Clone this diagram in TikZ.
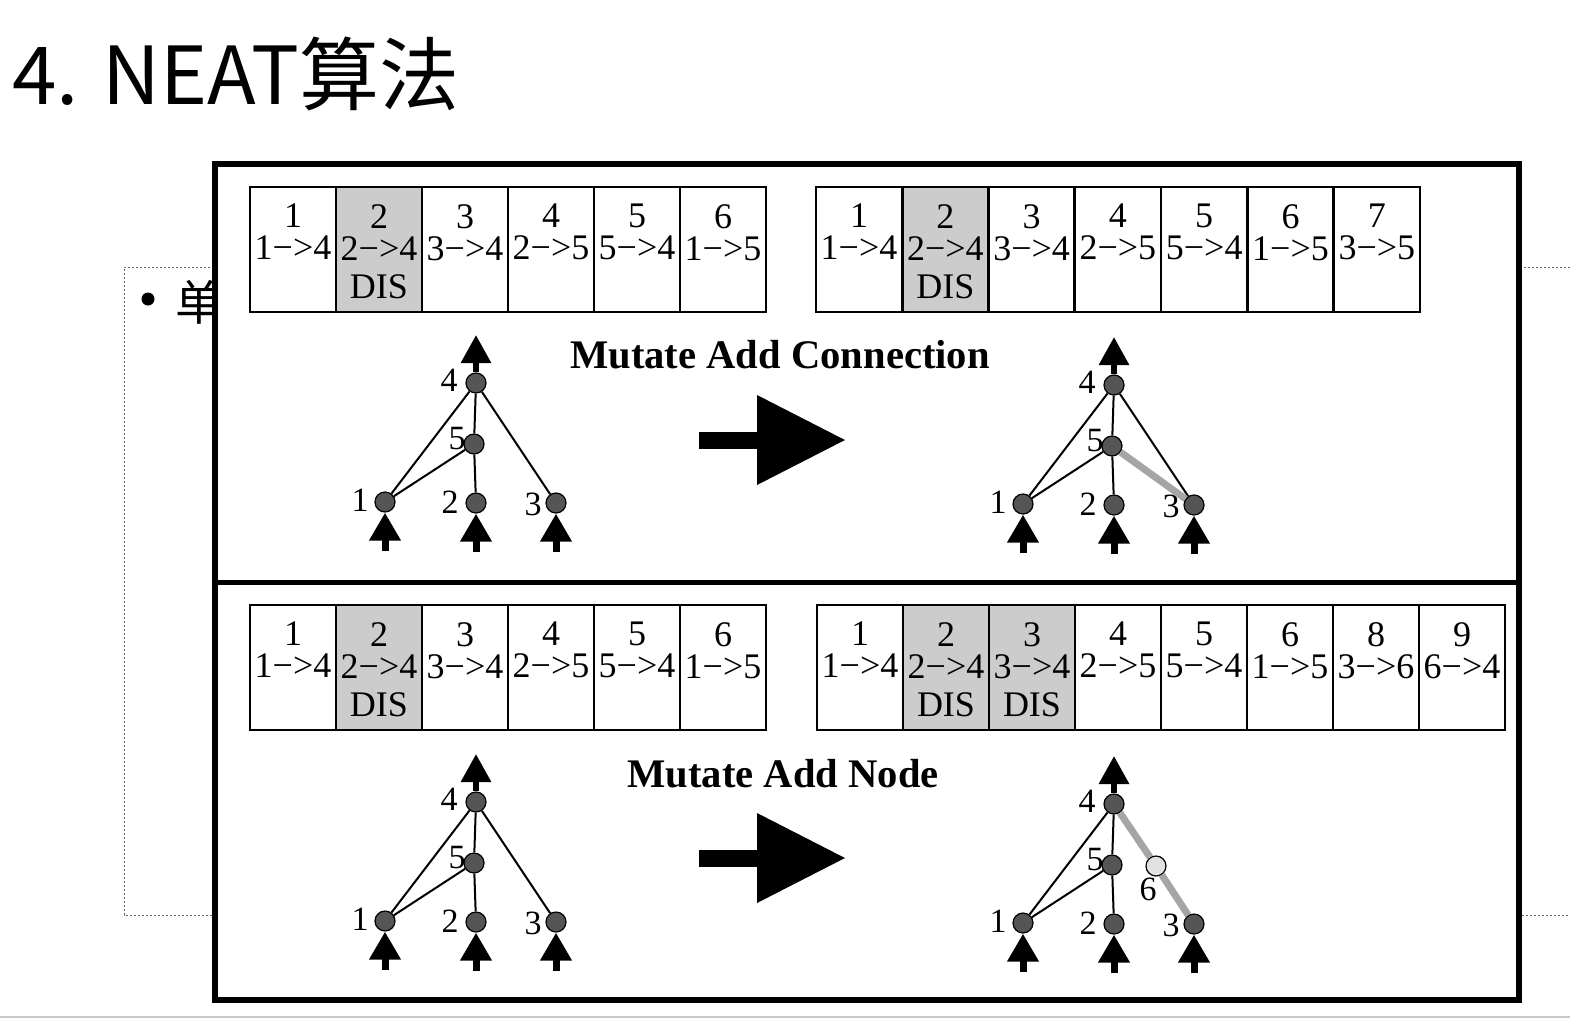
\documentclass[tikz,border=0pt]{standalone}
\usepackage{fontspec}
\setmainfont{Liberation Serif}
\newfontfamily\cjk{Noto Sans CJK SC}
\usetikzlibrary{arrows.meta}
\definecolor{neurongray}{RGB}{85,85,85}
\definecolor{newgray}{RGB}{225,225,225}
\definecolor{linkgray}{RGB}{165,165,165}
\definecolor{disgray}{RGB}{204,204,204}
\definecolor{edgeline}{RGB}{200,200,200}
\definecolor{dotgray}{RGB}{100,100,100}
\tikzset{
 genecell/.style={draw, line width=1.25pt, minimum width=43pt, minimum height=62.5pt, inner sep=0, outer sep=0, anchor=north west},
 genetxt/.style={font=\fontsize{18}{16}\selectfont, align=center, inner sep=0, anchor=north},
 neuron/.style={circle, draw, line width=0.6pt, fill=neurongray, minimum size=10pt, inner sep=0},
 newneuron/.style={neuron, fill=newgray},
 nlbl/.style={font=\fontsize{17}{18}\selectfont, inner sep=0},
 link/.style={line width=1pt},
 newlink/.style={line width=3.5pt, draw=linkgray},
 outarrow/.style={line width=3pt, -{Triangle[length=14pt,width=14.5pt]}},
 inarrow/.style={line width=3.5pt, -{Triangle[length=14pt,width=15pt]}},
 mtitle/.style={font=\bfseries\fontsize{20.3}{22}\selectfont, anchor=base, inner sep=0},
 bigarrow/.style={fill=black},
}
\newcommand\mkgene[7]{%
 \node[genecell, fill=#7] (#1) at (#2,#3) {};
 \node[genetxt] (#1t) at ([yshift=-8.4pt]#1.north) {#4\\#5#6};
}
\newcommand\dis{\\[3pt]DIS}
\newcommand\mknet[3]{%
 \begin{scope}[shift={(#2,#3)}]
 \node[neuron] (#1n4) at (0,0) {};
 \node[neuron] (#1n5) at (-2,61) {};
 \node[neuron] (#1n1) at (-91,119) {};
 \node[neuron] (#1n2) at (0,120) {};
 \node[neuron] (#1n3) at (80,120) {};
 \coordinate (#1o) at (0,-48);
 \coordinate (#1i1) at (-91,168);
 \coordinate (#1i2) at (0,169);
 \coordinate (#1i3) at (80,169);
 \node[nlbl] (#1l4) at (-27,-3) {4};
 \node[nlbl] (#1l5) at (-19,56) {5};
 \node[nlbl] (#1l1) at (-116,117) {1};
 \node[nlbl] (#1l2) at (-26,119) {2};
 \node[nlbl] (#1l3) at (-23+80,121) {3};
 \end{scope}
 \draw[link] (#1n4) -- (#1n1);
 \draw[link] (#1n4) -- (#1n5);
 \draw[link] (#1n5) -- (#1n1);
 \draw[link] (#1n5) -- (#1n2);
 \draw[outarrow] (#1n4) -- (#1o);
 \draw[inarrow] (#1i1) -- (#1n1);
 \draw[inarrow] (#1i2) -- (#1n2);
 \draw[inarrow] (#1i3) -- (#1n3);
}
\begin{document}
\begin{tikzpicture}[x=0.5pt,y=-0.5pt]
\useasboundingbox (0,0) rectangle (1570,1019);
\fill[white] (0,0) rectangle (1570,1019);
\draw[edgeline, line width=1pt] (0,1017) -- (1570,1017);
% title
\node[anchor=base west, inner sep=0, font=\cjk\fontsize{40}{42}\selectfont] (title) at (12,104) {4. NEAT算法};
% dotted text box behind the figure
\draw[dotgray, line width=0.5pt, dash pattern=on 1pt off 1pt] (1570,267) -- (124,267) -- (124,915) -- (1570,915);
\fill (148,299) circle (6.5);
\node[inner sep=0, font=\cjk\fontsize{24}{24}\selectfont] (bodytext) at (199,302) {单};
% frame
\draw[line width=3pt, fill=white] (214.5,164) rectangle (1518.5,1000);
\draw[line width=2.5pt] (214.5,582) -- (1518.5,582);
% top-left genome
\mkgene{tla}{250}{187}{1}{1−>4}{}{white}
\mkgene{tlb}{336}{187}{2}{2−>4}{\dis}{disgray}
\mkgene{tlc}{422}{187}{3}{3−>4}{}{white}
\mkgene{tld}{508}{187}{4}{2−>5}{}{white}
\mkgene{tle}{594}{187}{5}{5−>4}{}{white}
\mkgene{tlf}{680}{187}{6}{1−>5}{}{white}
% top-right genome
\mkgene{tra}{816}{187}{1}{1−>4}{}{white}
\mkgene{trb}{902.3}{187}{2}{2−>4}{\dis}{disgray}
\mkgene{trc}{988.6}{187}{3}{3−>4}{}{white}
\mkgene{trd}{1074.9}{187}{4}{2−>5}{}{white}
\mkgene{tre}{1161.2}{187}{5}{5−>4}{}{white}
\mkgene{trf}{1247.5}{187}{6}{1−>5}{}{white}
\mkgene{trg}{1333.8}{187}{7}{3−>5}{}{white}
% bottom-left genome
\mkgene{bla}{250}{605}{1}{1−>4}{}{white}
\mkgene{blb}{336}{605}{2}{2−>4}{\dis}{disgray}
\mkgene{blc}{422}{605}{3}{3−>4}{}{white}
\mkgene{bld}{508}{605}{4}{2−>5}{}{white}
\mkgene{ble}{594}{605}{5}{5−>4}{}{white}
\mkgene{blf}{680}{605}{6}{1−>5}{}{white}
% bottom-right genome
\mkgene{bra}{817}{605}{1}{1−>4}{}{white}
\mkgene{brb}{903}{605}{2}{2−>4}{\dis}{disgray}
\mkgene{brc}{989}{605}{3}{3−>4}{\dis}{disgray}
\mkgene{brd}{1075}{605}{4}{2−>5}{}{white}
\mkgene{bre}{1161}{605}{5}{5−>4}{}{white}
\mkgene{brf}{1247}{605}{6}{1−>5}{}{white}
\mkgene{brg}{1333}{605}{8}{3−>6}{}{white}
\mkgene{brh}{1419}{605}{9}{6−>4}{}{white}
% titles
\node[mtitle] (t1) at (780,368) {Mutate Add Connection};
\node[mtitle] (t2) at (783,787) {Mutate Add Node};
% networks
\mknet{A}{476}{383}
\draw[link] (An4) -- (An3);
\mknet{B}{1114}{385}
\draw[link] (Bn4) -- (Bn3);
\draw[newlink] (Bn5) -- (Bn3);
\mknet{C}{476}{802}
\draw[link] (Cn4) -- (Cn3);
\mknet{D}{1114}{804}
\node[newneuron] (Dn6) at (1156,866) {};
\node[nlbl] (Dl6) at (1148,889) {6};
\draw[newlink] (Dn4) -- (Dn6);
\draw[newlink] (Dn6) -- (Dn3);
% big arrows
\fill[bigarrow] (699,432) rectangle (760,449);
\fill[bigarrow] (757,395) -- (845,440) -- (757,485) -- cycle;
\fill[bigarrow] (699,850) rectangle (760,867);
\fill[bigarrow] (757,813) -- (845,858) -- (757,903) -- cycle;
\end{tikzpicture}
\end{document}
